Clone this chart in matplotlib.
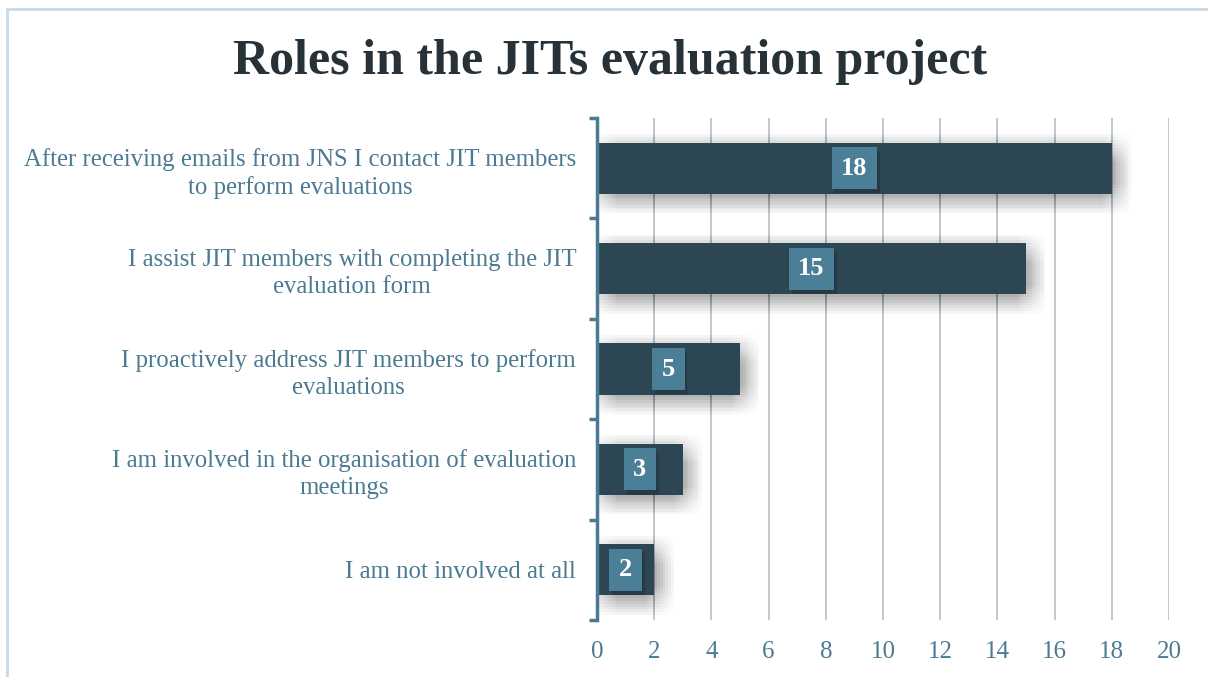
import matplotlib.pyplot as plt
import matplotlib.patheffects as pe
from matplotlib.patches import Rectangle
import numpy as np

categories = [
    'After receiving emails from JNS I contact JIT members\nto perform evaluations',
    'I assist JIT members with completing the JIT\nevaluation form',
    'I proactively address JIT members to perform\nevaluations',
    'I am involved in the organisation of evaluation\nmeetings',
    'I am not involved at all',
]
counts = [18, 15, 5, 3, 2]
xticks = list(range(0, 21, 2))

bar_color = '#2d4653'
box_color = '#4b7e97'
axis_color = '#4b7a93'
grid_color = '#b8c4cc'
title_color = '#263238'

plt.rcParams['font.family'] = ['Liberation Serif', 'DejaVu Serif']

fig = plt.figure(figsize=(12.08, 6.77), dpi=100)
fig.patches.append(Rectangle((7 / 1208, -0.01), 1.1, 1 - 9 / 677 + 0.01, transform=fig.transFigure,
                             fill=False, edgecolor='#c6dae7', linewidth=2))
ax = fig.add_axes([597 / 1208, 1 - 620 / 677, 572 / 1208, 502 / 677])

y = np.arange(len(categories))

# soft, wide shadow behind the bars (many faint offset copies)
offsets = [(dx, dy) for dx in range(-6, 16, 2) for dy in range(-6, 16, 2)]
shadow = [pe.SimplePatchShadow(offset=(dx, -dy), shadow_rgbFace='black', alpha=0.0035)
          for dx, dy in offsets]
bars = ax.barh(y, counts, height=0.51, color=bar_color, zorder=3)
for b in bars:
    b.set_path_effects(shadow + [pe.Normal()])

ax.set_ylim(len(categories) - 0.5, -0.5)
ax.set_xlim(0, 20)
ax.set_xticks(xticks)
ax.set_yticks(y)
ax.set_yticklabels(categories, multialignment='center', linespacing=1.3)
ax.set_yticks(np.arange(-0.5, len(categories)), minor=True)

ax.tick_params(axis='y', which='major', length=0, pad=15, labelsize=17.8, labelcolor=axis_color)
ax.tick_params(axis='y', which='minor', length=6, width=2.5, color=axis_color, direction='out')
ax.tick_params(axis='x', length=0, pad=15, labelsize=18, labelcolor=axis_color)

for s in ['top', 'right', 'bottom']:
    ax.spines[s].set_visible(False)
ax.spines['left'].set_color(axis_color)
ax.spines['left'].set_linewidth(2.5)
ax.spines['left'].set_zorder(5)

for v in xticks[1:]:
    ax.axvline(v, color=grid_color, linewidth=1.3, zorder=1)

for yi, v in zip(y, counts):
    t = ax.text(v / 2, yi, str(v), ha='center', va='center', color='white',
                fontsize=19, fontweight='bold', zorder=6,
                bbox=dict(boxstyle='square,pad=0.36', facecolor=box_color, edgecolor='none'))
    t.get_bbox_patch().set_path_effects([pe.SimplePatchShadow(offset=(2, -3), alpha=0.35), pe.Normal()])

fig.text(0.505, 1 - 62 / 677, 'Roles in the JITs evaluation project', ha='center', va='center',
         fontsize=36, fontweight='bold', color=title_color)

plt.savefig('out.png', dpi=100)
